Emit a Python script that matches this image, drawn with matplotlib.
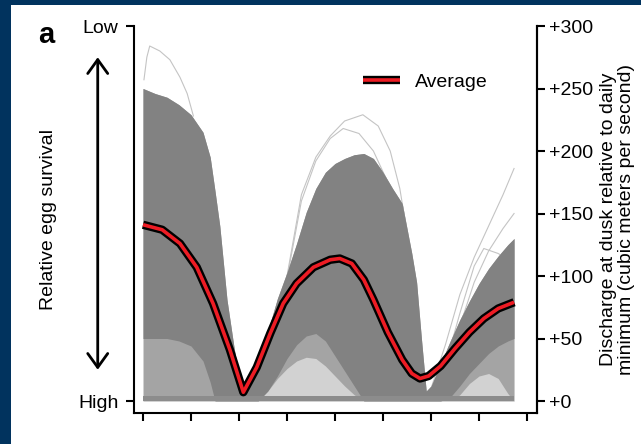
import matplotlib
matplotlib.use("Agg")
import matplotlib.pyplot as plt
from matplotlib.lines import Line2D
from matplotlib.legend_handler import HandlerTuple
from matplotlib.patches import Rectangle

plt.rcParams['font.family'] = ['Liberation Sans', 'DejaVu Sans']
plt.rcParams['font.size'] = 14

# 数据
x_ticks = [0, 1, 2, 3, 4, 5, 6, 7, 8]
right_ticks = [0, 50, 100, 150, 200, 250, 300]
right_labels = ['+0', '+50', '+100', '+150', '+200', '+250', '+300']
left_ticks = [0, 300]
left_labels = ['High', 'Low']

# 灰色曲线簇的包络
env_x = [0.0, 0.25, 0.5, 0.75, 1.0, 1.25, 1.4, 1.5, 1.6, 1.75, 1.9, 2.0, 2.1, 2.2, 2.4,
         2.6, 2.8, 3.0, 3.2, 3.4, 3.6, 3.8, 4.0, 4.2, 4.4, 4.6, 4.8, 5.0, 5.2, 5.4,
         5.5, 5.6, 5.7, 5.8, 5.9, 6.0, 6.2, 6.4, 6.6, 6.8, 7.0, 7.2, 7.4, 7.6, 7.73]
env_upper = [250, 246, 243, 237, 229, 215, 195, 168, 140, 81, 42, 20, 8, 12, 29,
             56, 82, 103, 126, 151, 170, 183, 190, 194, 197, 198, 194, 183, 170, 158,
             138, 118, 95, 50, 8, 12, 30, 48, 65, 80, 94, 106, 116, 125, 130]
dense_lower = [50, 50, 50, 48, 44, 32, 15, 0, 0, 0, 0, 0, 0, 0, 0,
               8, 20, 34, 45, 52, 54, 48, 36, 24, 12, 0, 0, 0, 0, 0,
               0, 0, 0, 0, 0, 0, 0, 3, 12, 22, 30, 38, 44, 48, 50]
# 曲线稀疏处（近白色三角区）
pale_top = [0, 0, 0, 0, 0, 0, 0, 0, 0, 0, 0, 0, 0, 0, 0,
            8, 18, 26, 32, 35, 34, 28, 20, 12, 5, 0, 0, 0, 0, 0,
            0, 0, 0, 0, 0, 0, 0, 0, 5, 14, 20, 22, 18, 6, 0]

# 零附近的平线
flat_x = [0.0, 7.73]
flat_top = [4, 4]

# 个别离群曲线
out1_x = [0.02, 0.08, 0.14, 0.35, 0.56, 0.77, 0.92, 1.05]
out1_y = [257, 275, 284, 280, 273, 259, 246, 228]
out2_x = [3.0, 3.3, 3.6, 3.9, 4.2, 4.58, 4.9, 5.15, 5.35, 5.5]
out2_y = [100, 165, 195, 212, 224, 229, 220, 200, 170, 135]
out3_x = [3.0, 3.3, 3.6, 3.9, 4.17, 4.5, 4.8, 5.1, 5.3, 5.45]
out3_y = [98, 160, 192, 210, 218, 214, 200, 175, 150, 130]
out4_x = [6.0, 6.3, 6.6, 6.9, 7.2, 7.5, 7.73]
out4_y = [10, 45, 85, 115, 140, 165, 186]
out5_x = [6.3, 6.6, 6.9, 7.2, 7.5, 7.73]
out5_y = [20, 60, 95, 120, 138, 150]
out6_x = [6.2, 6.6, 6.9, 7.1, 7.4, 7.73]
out6_y = [15, 70, 108, 122, 118, 110]

# 平均曲线
avg_x = [0.0, 0.4, 0.77, 1.12, 1.46, 1.81, 2.09, 2.37, 2.65, 2.92, 3.2, 3.55, 3.9, 4.1,
         4.35, 4.6, 4.8, 5.1, 5.4, 5.6, 5.77, 5.95, 6.2, 6.5, 6.8, 7.1, 7.4, 7.73]
avg_y = [141, 137, 126, 107, 78, 41, 7, 27, 54, 78, 94, 107, 113, 114,
         110, 97, 81, 55, 33, 22, 18, 20, 28, 42, 55, 66, 74, 79]

W, H = 641, 444
fig = plt.figure(figsize=(W / 100, H / 100), dpi=100, facecolor='#01335e')
fig.patches.append(Rectangle((11 / W, 0), 1, 1 - 5 / H, transform=fig.transFigure,
                             facecolor='white', edgecolor='none', zorder=-1))

ax = fig.add_axes([134 / W, (H - 413) / H, (537 - 134) / W, (413 - 26) / H])
ax.set_facecolor('none')

# 灰色曲线簇
ax.fill_between(env_x, 0, env_upper, color='#a4a4a4', lw=0, zorder=1)
ax.fill_between(env_x, 0, pale_top, color='#d2d2d2', lw=0, zorder=1.2)
for ox, oy in [(out1_x, out1_y), (out2_x, out2_y), (out3_x, out3_y),
               (out4_x, out4_y), (out5_x, out5_y), (out6_x, out6_y)]:
    ax.plot(ox, oy, color='#c4c4c4', lw=0.8, zorder=1.5)
ax.fill_between(env_x, dense_lower, env_upper, color='#828282', lw=0, zorder=2)
ax.fill_between(flat_x, 0, flat_top, color='#8c8c8c', lw=0, zorder=2)

# 平均曲线
ax.plot(avg_x, avg_y, color='black', lw=6, solid_capstyle='butt', zorder=5)
ax.plot(avg_x, avg_y, color='#ed1c24', lw=2.6, solid_capstyle='butt', zorder=6)

ax.set_xlim(-0.1875, 8.208)
ax.set_ylim(-9.6, 300)
ax.set_xticks(x_ticks)
ax.set_xticklabels([])
ax.set_yticks(left_ticks)
ax.set_yticklabels(left_labels)
ax.spines['top'].set_visible(False)
for s in ['left', 'bottom', 'right']:
    ax.spines[s].set_linewidth(1.5)
ax.tick_params(axis='both', direction='out', length=6, width=1.5, pad=5)

ax2 = ax.twinx()
ax2.set_ylim(-9.6, 300)
ax2.set_yticks(right_ticks)
ax2.set_yticklabels(right_labels)
for s in ['left', 'bottom', 'top']:
    ax2.spines[s].set_visible(False)
ax2.spines['right'].set_linewidth(1.5)
ax2.tick_params(axis='y', direction='out', length=6, width=1.5, pad=3)

# 左侧双向箭头与标签
ax.annotate('', xy=(-0.09, 275), xytext=(-0.09, 25), xycoords=('axes fraction', 'data'),
            textcoords=('axes fraction', 'data'),
            arrowprops=dict(arrowstyle='<->, head_length=0.5, head_width=0.36',
                            lw=2, color='black', mutation_scale=20, shrinkA=0, shrinkB=0))
ax.text(-0.213, 0.5, 'Relative egg survival', transform=ax.transAxes, rotation=90,
        ha='center', va='center')
ax.text(1.2, 0.5, 'Discharge at dusk relative to daily\nminimum (cubic meters per second)',
        transform=ax.transAxes, rotation=90, ha='center', va='center', linespacing=1.1)
fig.text(38 / W, 1 - 35 / H, 'a', fontsize=21, fontweight='bold', va='center', ha='left')

# 图例
h_black = Line2D([], [], color='black', lw=6, solid_capstyle='butt')
h_red = Line2D([], [], color='#ed1c24', lw=2.6, solid_capstyle='butt')
ax.legend([(h_black, h_red)], ['Average'], handler_map={tuple: HandlerTuple(ndivide=1)},
          loc='center left', bbox_to_anchor=(0.568, 0.855), frameon=False, borderpad=0,
          borderaxespad=0, handlelength=1.9, handletextpad=0.8)

fig.savefig('out.png', dpi=100, facecolor=fig.get_facecolor())
